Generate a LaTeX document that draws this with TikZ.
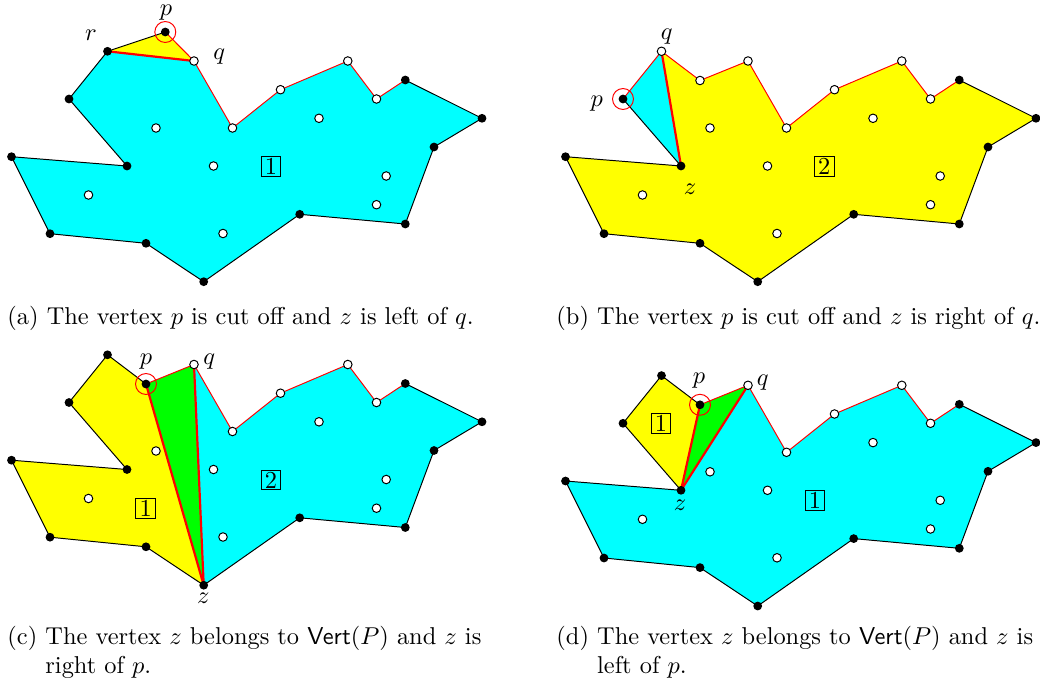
\documentclass[tikz,border=0pt]{standalone}
\usepackage{amsmath}
\usepackage{amssymb}
\usepackage{tikz}
\usetikzlibrary{calc}

\definecolor{polycyan}{RGB}{0,255,255}
\definecolor{polyyellow}{RGB}{255,255,0}
\definecolor{polygreen}{RGB}{0,255,0}

% vertices shared by all four panels (panel-local coordinates)
\newcommand{\polyverts}{%
  \coordinate (v1)  at (11.5,156.7);
  \coordinate (v2)  at (50,233.7);
  \coordinate (v3)  at (146,243.3);
  \coordinate (v4)  at (203.7,281.7);
  \coordinate (v5)  at (299.7,214.3);
  \coordinate (v6)  at (405.3,224);
  \coordinate (v7)  at (434,147);
  \coordinate (v8)  at (482,118.3);
  \coordinate (v9)  at (405.3,80);
  \coordinate (v10) at (376.5,99);
  \coordinate (v11) at (347.8,61);
  \coordinate (v12) at (280.5,89.7);
  \coordinate (v13) at (232.5,128);
  \coordinate (vq)  at (194,61);
  \coordinate (vz)  at (127,166);
  \coordinate (vw)  at (69,99);
  \coordinate (vr)  at (107.5,51.3);
  \coordinate (vn)  at (146,80.5);
}
% interior points (the first one moves between the rows)
\newcommand{\innerdots}[1]{%
  \foreach \x/\y in {156/#1, 213.5/166, 88.5/195, 223/233.5, 319/118.3, 386.2/176, 376.5/204.7}
    \filldraw[wdot] (\x,\y) circle (1.75pt);
}

\begin{document}
\begin{tikzpicture}[
  x=0.41pt, y=-0.41pt,
  hedge/.style  = {draw=black, line width=0.4pt, line join=round},
  redge/.style  = {draw=red, line width=0.4pt, line join=round},
  cutedge/.style= {draw=red, line width=0.9pt, line join=round},
  wdot/.style   = {fill=white, draw=black, line width=0.4pt},
  ring/.style   = {draw=red, line width=0.4pt},
  lbl/.style    = {inner sep=0pt},
  numbox/.style = {draw, inner sep=0pt, minimum size=8.1pt, line width=0.4pt},
  subcap/.style = {inner sep=0pt, anchor=base west},
]
\useasboundingbox (0,0) rectangle (1040,687);

%── (a) p is cut off, z left of q ────────────────────────────────────────────
\begin{scope}
  \polyverts
  \coordinate (vp) at (165.3,32);
  \fill[polycyan]   (vr) -- (vq) -- (v13) -- (v12) -- (v11) -- (v10) -- (v9) -- (v8) -- (v7)
                    -- (v6) -- (v5) -- (v4) -- (v3) -- (v2) -- (v1) -- (vz) -- (vw) -- cycle;
  \fill[polyyellow] (vr) -- (vp) -- (vq) -- cycle;
  \draw[hedge]   (v9) -- (v8) -- (v7) -- (v6) -- (v5) -- (v4) -- (v3) -- (v2) -- (v1)
                 -- (vz) -- (vw) -- (vr) -- (vp);
  \draw[redge]   (vp) -- (vq) -- (v13) -- (v12) -- (v11) -- (v10) -- (v9);
  \draw[cutedge] (vr) -- (vq);
  \draw[ring]    (vp) circle (4.3pt);
  \foreach \c in {v1,v2,v3,v4,v5,v6,v7,v8,v9,vz,vw,vr,vp} \fill (\c) circle (1.8pt);
  \foreach \c in {vq,v10,v11,v12,v13} \filldraw[wdot] (\c) circle (1.75pt);
  \innerdots{128}
  \node[lbl] (pa) at (166,12.5) {$p$};
  \node[lbl] (ra) at (91,35.7)  {$r$};
  \node[lbl] (qa) at (219.3,57) {$q$};
  \node[numbox] (ta) at (271,166.7) {1};
\end{scope}

%── (b) p is cut off, z right of q ───────────────────────────────────────────
\begin{scope}[shift={(554,0)}]
  \polyverts
  \fill[polyyellow] (vr) -- (vn) -- (vq) -- (v13) -- (v12) -- (v11) -- (v10) -- (v9) -- (v8)
                    -- (v7) -- (v6) -- (v5) -- (v4) -- (v3) -- (v2) -- (v1) -- (vz) -- cycle;
  \fill[polycyan]   (vw) -- (vr) -- (vz) -- cycle;
  \draw[hedge]   (v9) -- (v8) -- (v7) -- (v6) -- (v5) -- (v4) -- (v3) -- (v2) -- (v1)
                 -- (vz) -- (vw);
  \draw[redge]   (vw) -- (vr) -- (vn) -- (vq) -- (v13) -- (v12) -- (v11) -- (v10) -- (v9);
  \draw[cutedge] (vr) -- (vz);
  \draw[ring]    (vw) circle (4.3pt);
  \foreach \c in {v1,v2,v3,v4,v5,v6,v7,v8,v9,vz,vw} \fill (\c) circle (1.8pt);
  \foreach \c in {vr,vn,vq,v10,v11,v12,v13} \filldraw[wdot] (\c) circle (1.75pt);
  \innerdots{128}
  \node[lbl] (pb) at (42.7,103.3) {$p$};
  \node[lbl] (qb) at (112.7,36.7) {$q$};
  \node[lbl] (zb) at (136,189.3)  {$z$};
  \node[numbox] (tb) at (270.3,166.7) {2};
\end{scope}

%── (c) z in Vert(P), right of p ─────────────────────────────────────────────
\begin{scope}[shift={(0,303.5)}]
  \polyverts
  \fill[polyyellow] (vr) -- (vn) -- (v4) -- (v3) -- (v2) -- (v1) -- (vz) -- (vw) -- cycle;
  \fill[polygreen]  (vn) -- (vq) -- (v4) -- cycle;
  \fill[polycyan]   (vq) -- (v13) -- (v12) -- (v11) -- (v10) -- (v9) -- (v8) -- (v7) -- (v6)
                    -- (v5) -- (v4) -- cycle;
  \draw[hedge]   (v9) -- (v8) -- (v7) -- (v6) -- (v5) -- (v4) -- (v3) -- (v2) -- (v1)
                 -- (vz) -- (vw) -- (vr) -- (vn);
  \draw[redge]   (vn) -- (vq) -- (v13) -- (v12) -- (v11) -- (v10) -- (v9);
  \draw[cutedge] (vn) -- (v4) -- (vq);
  \draw[ring]    (vn) circle (4.3pt);
  \foreach \c in {v1,v2,v3,v4,v5,v6,v7,v8,v9,vz,vw,vr,vn} \fill (\c) circle (1.8pt);
  \foreach \c in {vq,v10,v11,v12,v13} \filldraw[wdot] (\c) circle (1.75pt);
  \innerdots{147.5}
  \node[lbl] (pc) at (146,58.2)    {$p$};
  \node[lbl] (qc) at (209.3,58.2)  {$q$};
  \node[lbl] (zc) at (203.3,294.8) {$z$};
  \node[numbox] (tc1) at (145.7,204.8) {1};
  \node[numbox] (tc2) at (271,176.5)   {2};
\end{scope}

%── (d) z in Vert(P), left of p ──────────────────────────────────────────────
\begin{scope}[shift={(554,324.3)}]
  \polyverts
  \fill[polyyellow] (vw) -- (vr) -- (vn) -- (vz) -- cycle;
  \fill[polygreen]  (vn) -- (vq) -- (vz) -- cycle;
  \fill[polycyan]   (vq) -- (v13) -- (v12) -- (v11) -- (v10) -- (v9) -- (v8) -- (v7) -- (v6)
                    -- (v5) -- (v4) -- (v3) -- (v2) -- (v1) -- (vz) -- cycle;
  \draw[hedge]   (v9) -- (v8) -- (v7) -- (v6) -- (v5) -- (v4) -- (v3) -- (v2) -- (v1)
                 -- (vz) -- (vw) -- (vr) -- (vn);
  \draw[redge]   (vn) -- (vq) -- (v13) -- (v12) -- (v11) -- (v10) -- (v9);
  \draw[cutedge] (vn) -- (vz) -- (vq);
  \draw[ring]    (vn) circle (4.3pt);
  \foreach \c in {v1,v2,v3,v4,v5,v6,v7,v8,v9,vz,vw,vr,vn} \fill (\c) circle (1.8pt);
  \foreach \c in {vq,v10,v11,v12,v13} \filldraw[wdot] (\c) circle (1.75pt);
  \innerdots{147.5}
  \node[lbl] (pd) at (145,56.7)  {$p$};
  \node[lbl] (qd) at (208.7,58)  {$q$};
  \node[lbl] (zd) at (126,180.7) {$z$};
  \node[numbox] (td1) at (107,99.4)  {1};
  \node[numbox] (td2) at (261,176.4) {1};
\end{scope}

%── Captions ─────────────────────────────────────────────────────────────────
\node[subcap] (capa) at (7,324)   {(a)~The vertex $p$ is cut off and $z$ is left of $q$.};
\node[subcap] (capb) at (556,324) {(b)~The vertex $p$ is cut off and $z$ is right of $q$.};
\node[subcap] (capc) at (7,644)   {\begin{tabular}[t]{@{}l@{~}l@{}}
  (c) & The vertex $z$ belongs to $\mathsf{Vert}(P)$ and $z$ is\\ & right of $p$.\end{tabular}};
\node[subcap] (capd) at (556,644) {\begin{tabular}[t]{@{}l@{~}l@{}}
  (d) & The vertex $z$ belongs to $\mathsf{Vert}(P)$ and $z$ is\\ & left of $p$.\end{tabular}};

\end{tikzpicture}
\end{document}
